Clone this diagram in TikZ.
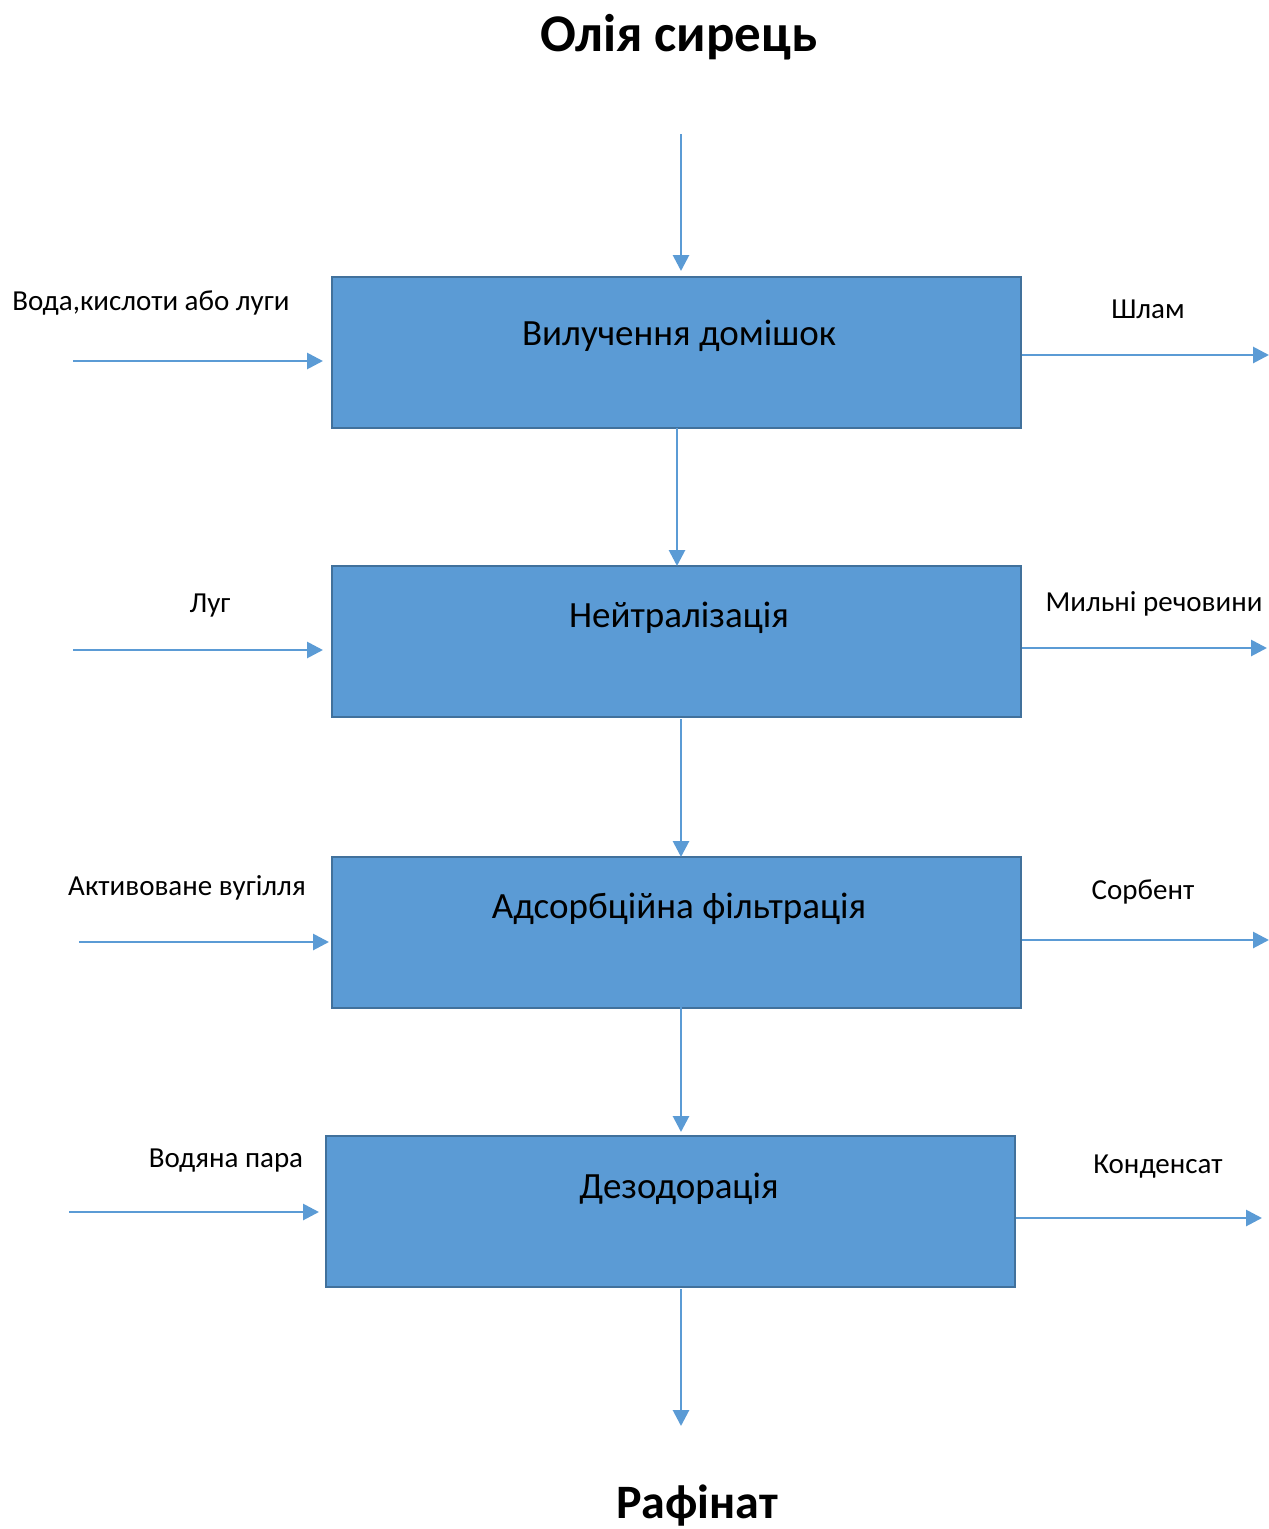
\documentclass[tikz,border=0pt]{standalone}
\usepackage{fontspec}
\setmainfont{Carlito}
\usetikzlibrary{arrows.meta}
\definecolor{boxfill}{HTML}{5B9BD5}
\definecolor{boxline}{HTML}{41719C}
\definecolor{arr}{HTML}{5B9BD5}
\begin{document}
\begin{tikzpicture}[x=1pt,y=-1pt,
  stage/.style={draw=boxline,fill=boxfill,line width=2pt,minimum width=689pt,minimum height=151pt,inner sep=0pt},
  stagetext/.style={font=\fontsize{37}{44}\selectfont,anchor=center},
  lbl/.style={font=\fontsize{29}{34}\selectfont,anchor=center},
  ttl/.style={font=\bfseries\fontsize{53}{62}\selectfont,anchor=center},
  flow/.style={draw=arr,line width=2.8pt,-{Triangle[length=16pt,width=16pt]}}]
\useasboundingbox (0,0) rectangle (1269,1529);
% boxes
\node[stage] (b1) at (676.5,352.5) {};
\node[stage] (b2) at (676.5,641) {};
\node[stage] (b3) at (676.5,932) {};
\node[stage] (b4) at (670.5,1211) {};
\node[stagetext] (t1) at (679,336) {Вилучення домішок};
\node[stagetext] (t2) at (679,618) {Нейтралізація};
\node[stagetext] (t3) at (679,909) {Адсорбційна фільтрація};
\node[stagetext] (t4) at (679,1189) {Дезодорація};
% titles
\node[ttl] (top) at (679,37) {Олія сирець};
\node[ttl,font=\bfseries\fontsize{48}{56}\selectfont,anchor=base] (bot) at (697,1518) {Рафінат};
% vertical flow
\coordinate (s0) at (681,134);
\coordinate (e0) at (681,271);
\draw[flow] (s0) -- (e0);
\coordinate (s1) at (677,428);
\coordinate (e1) at (677,566);
\draw[flow] (s1) -- (e1);
\coordinate (s2) at (681,719);
\coordinate (e2) at (681,857);
\draw[flow] (s2) -- (e2);
\coordinate (s3) at (681,1007);
\coordinate (e3) at (681,1132);
\draw[flow] (s3) -- (e3);
\coordinate (s4) at (681,1289);
\coordinate (e4) at (681,1426);
\draw[flow] (s4) -- (e4);
% left inputs
\coordinate (l1) at (73,361);  \coordinate (m1) at (323,361);
\coordinate (l2) at (73,650);  \coordinate (m2) at (323,650);
\coordinate (l3) at (79,942);  \coordinate (m3) at (329,942);
\coordinate (l4) at (69,1212); \coordinate (m4) at (319,1212);
\draw[flow] (l1) -- (m1);
\draw[flow] (l2) -- (m2);
\draw[flow] (l3) -- (m3);
\draw[flow] (l4) -- (m4);
\node[lbl] (a1) at (151,303) {Вода,кислоти або луги};
\node[lbl] (a2) at (210,606) {Луг};
\node[lbl] (a3) at (187,888) {Активоване вугілля};
\node[lbl] (a4) at (226,1161) {Водяна пара};
% right outputs
\coordinate (r1) at (1269,355);
\coordinate (r2) at (1267,648);
\coordinate (r3) at (1269,940);
\coordinate (r4) at (1262,1218);
\draw[flow] (b1.east |- r1) -- (r1);
\draw[flow] (b2.east |- r2) -- (r2);
\draw[flow] (b3.east |- r3) -- (r3);
\draw[flow] (b4.east |- r4) -- (r4);
\node[lbl] (o1) at (1148,309) {Шлам};
\node[lbl] (o2) at (1154,604) {Мильні речовини};
\node[lbl] (o3) at (1143,892) {Сорбент};
\node[lbl] (o4) at (1158,1167) {Конденсат};
\end{tikzpicture}
\end{document}
